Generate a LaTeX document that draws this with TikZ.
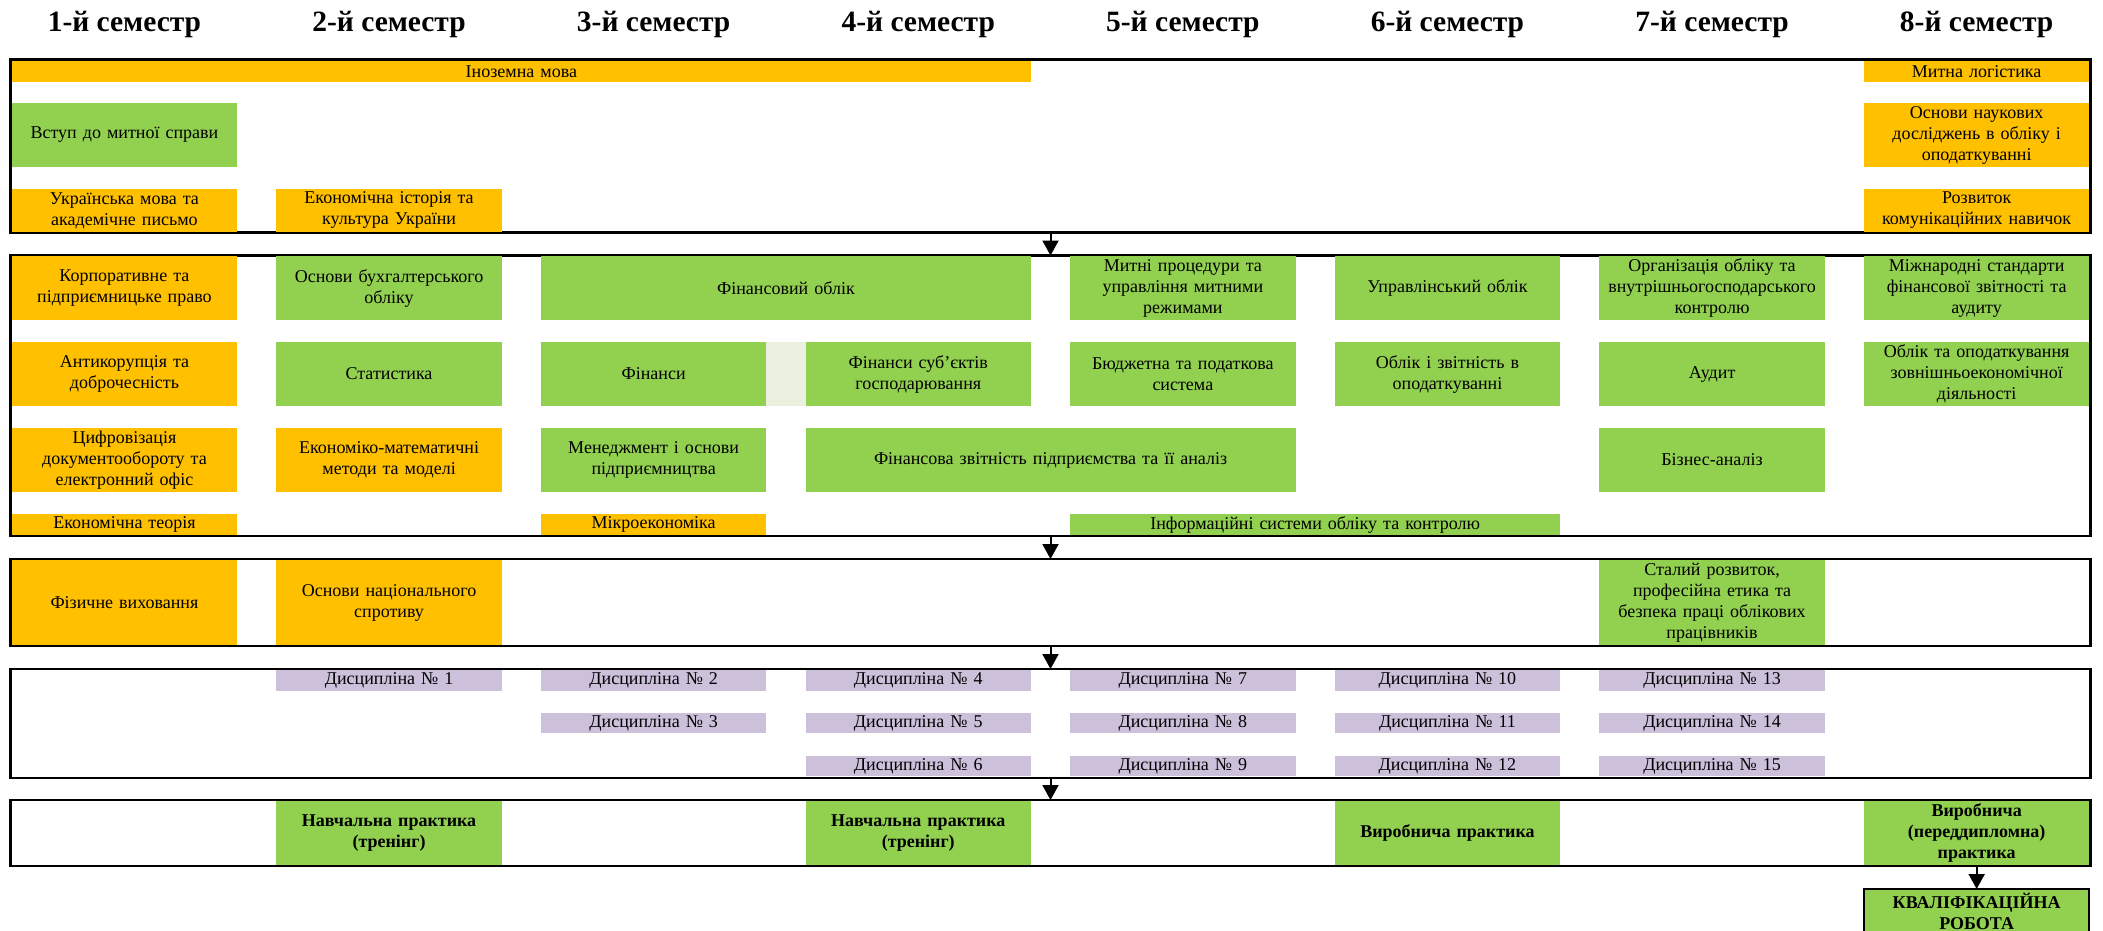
\documentclass[tikz,border=0pt]{standalone}
\usepackage{fontspec}
\setmainfont{Liberation Serif}
\usepackage{xcolor}
\usetikzlibrary{arrows.meta}
\definecolor{yelcol}{HTML}{FFC000}
\definecolor{grncol}{HTML}{92D050}
\definecolor{lilcol}{HTML}{CCC0DA}
\definecolor{lgtcol}{HTML}{EBF1DE}

\begin{document}
\begin{tikzpicture}[x=1pt,y=-1pt,
  every node/.style={inner xsep=2pt,inner ysep=0pt,outer sep=0pt},
  hdr/.style={font=\fontsize{29.5}{34}\selectfont\bfseries,anchor=base},
  cell/.style={rectangle,align=center,text width=218pt,minimum width=225.5pt,minimum height=63.4pt,font=\fontsize{18}{21}\selectfont},
  yel/.style={cell,fill=yelcol},
  grn/.style={cell,fill=grncol},
  lil/.style={cell,fill=lilcol,minimum height=20.7pt},
  lgt/.style={rectangle,fill=lgtcol,minimum width=39.1pt,minimum height=63.4pt,inner sep=0pt},
  wide/.style={minimum width=490.1pt,text width=480pt},
  thin/.style={minimum height=20.7pt},
  semframe/.style={rectangle,draw=black,line width=2.5pt,minimum width=2080pt},
  prac/.style={grn,font=\fontsize{18}{21}\selectfont\bfseries,minimum height=63.7pt},
  arr/.style={line width=2pt,-{Triangle[width=16pt,length=15pt]}}]
\useasboundingbox (0,0) rectangle (2103,930);

\node[hdr] (hdr1) at (124.45,31.7) {1-й семестр};
\node[hdr] (hdr2) at (389.05,31.7) {2-й семестр};
\node[hdr] (hdr3) at (653.65,31.7) {3-й семестр};
\node[hdr] (hdr4) at (918.25,31.7) {4-й семестр};
\node[hdr] (hdr5) at (1182.85,31.7) {5-й семестр};
\node[hdr] (hdr6) at (1447.45,31.7) {6-й семестр};
\node[hdr] (hdr7) at (1712.05,31.7) {7-й семестр};
\node[hdr] (hdr8) at (1976.65,31.7) {8-й семестр};

\node[semframe,minimum height=173pt] (sem1) at (1050.5,146.2) {};
\node[semframe,minimum height=280.5pt] (sem2) at (1050.5,395.75) {};
\node[semframe,minimum height=87pt] (sem3) at (1050.5,602.5) {};
\node[semframe,minimum height=109pt] (sem4) at (1050.5,723.5) {};
\node[semframe,minimum height=66pt] (sem5) at (1050.5,833) {};

\node[yel,thin,minimum width=1019.3pt,text width=1000pt] (ino) at (521.35,71.35) {Іноземна мова};
\node[yel,thin] (mlog) at (1976.65,71.35) {Митна логістика};
\node[grn] (vstup) at (124.45,135) {Вступ до митної справи};
\node[yel] (osnnauk) at (1976.65,135) {Основи наукових\\досліджень в обліку і\\оподаткуванні};
\node[yel,minimum height=42.7pt] (ukrmova) at (124.45,210.35) {Українська мова та\\академічне письмо};
\node[yel,minimum height=42.7pt] (ekist) at (389.05,210.35) {Економічна історія та\\культура України};
\node[yel,minimum height=42.7pt] (rozv) at (1976.65,210.35) {Розвиток\\комунікаційних навичок};

\node[yel] (korp) at (124.45,288) {Корпоративне та\\підприємницьке право};
\node[grn] (osnbuh) at (389.05,288) {Основи бухгалтерського\\обліку};
\node[grn,wide] (finobl) at (785.95,288) {Фінансовий облік};
\node[grn] (mytni) at (1182.85,288) {Митні процедури та\\управління митними\\режимами};
\node[grn] (uprobl) at (1447.45,288) {Управлінський облік};
\node[grn] (orgobl) at (1712.05,288) {Організація обліку та\\внутрішньогосподарського\\контролю};
\node[grn] (msfz) at (1976.65,288) {Міжнародні стандарти\\фінансової звітності та\\аудиту};
\node[yel] (antyk) at (124.45,374) {Антикорупція та\\доброчесність};
\node[grn] (stat) at (389.05,374) {Статистика};
\node[grn] (fin) at (653.65,374) {Фінанси};
\node[lgt] (fingap) at (785.95,374) {};
\node[grn] (finsub) at (918.25,374) {Фінанси суб’єктів\\господарювання};
\node[grn] (budzh) at (1182.85,374) {Бюджетна та податкова\\система};
\node[grn] (oblzv) at (1447.45,374) {Облік і звітність в\\оподаткуванні};
\node[grn] (audyt) at (1712.05,374) {Аудит};
\node[grn] (zed) at (1976.65,374) {Облік та оподаткування\\зовнішньоекономічної\\діяльності};
\node[yel] (tsyfr) at (124.45,460) {Цифровізація\\документообороту та\\електронний офіс};
\node[yel] (ekmat) at (389.05,460) {Економіко-математичні\\методи та моделі};
\node[grn] (menedzh) at (653.65,460) {Менеджмент і основи\\підприємництва};
\node[grn,wide] (finzv) at (1050.55,460) {Фінансова звітність підприємства та її аналіз};
\node[grn] (biznes) at (1712.05,460) {Бізнес-аналіз};
\node[yel,thin] (ekteor) at (124.45,524.65) {Економічна теорія};
\node[yel,thin] (mikro) at (653.65,524.65) {Мікроекономіка};
\node[grn,thin,wide] (infsys) at (1315.15,524.65) {Інформаційні системи обліку та контролю};

\node[yel,minimum height=84.4pt] (fizv) at (124.45,602.5) {Фізичне виховання};
\node[yel,minimum height=84.4pt] (nacspr) at (389.05,602.5) {Основи національного\\спротиву};
\node[grn,minimum height=84.4pt] (stalyi) at (1712.05,602.5) {Сталий розвиток,\\професійна етика та\\безпека праці облікових\\працівників};

\node[lil] (disc1) at (389.05,680.35) {Дисципліна № 1};
\node[lil] (disc2) at (653.65,680.35) {Дисципліна № 2};
\node[lil] (disc4) at (918.25,680.35) {Дисципліна № 4};
\node[lil] (disc7) at (1182.85,680.35) {Дисципліна № 7};
\node[lil] (disc10) at (1447.45,680.35) {Дисципліна № 10};
\node[lil] (disc13) at (1712.05,680.35) {Дисципліна № 13};
\node[lil] (disc3) at (653.65,723) {Дисципліна № 3};
\node[lil] (disc5) at (918.25,723) {Дисципліна № 5};
\node[lil] (disc8) at (1182.85,723) {Дисципліна № 8};
\node[lil] (disc11) at (1447.45,723) {Дисципліна № 11};
\node[lil] (disc14) at (1712.05,723) {Дисципліна № 14};
\node[lil] (disc6) at (918.25,766) {Дисципліна № 6};
\node[lil] (disc9) at (1182.85,766) {Дисципліна № 9};
\node[lil] (disc12) at (1447.45,766) {Дисципліна № 12};
\node[lil] (disc15) at (1712.05,766) {Дисципліна № 15};

\node[prac] (navch1) at (389.05,833.15) {Навчальна практика\\(тренінг)};
\node[prac] (navch2) at (918.25,833.15) {Навчальна практика\\(тренінг)};
\node[prac] (vyrob) at (1447.45,833.15) {Виробнича практика};
\node[prac] (preddyp) at (1976.65,833.15) {Виробнича\\(переддипломна)\\практика};
\node[prac,draw=black,line width=2pt,minimum height=44pt] (kval) at (1976.65,911) {КВАЛІФІКАЦІЙНА\\РОБОТА};

\draw[arr] (sem1.south) -- (sem2.north);
\draw[arr] (sem2.south) -- (sem3.north);
\draw[arr] (sem3.south) -- (sem4.north);
\draw[arr] (sem4.south) -- (sem5.north);
\draw[arr] (preddyp.south) -- (kval.north);
\end{tikzpicture}
\end{document}
